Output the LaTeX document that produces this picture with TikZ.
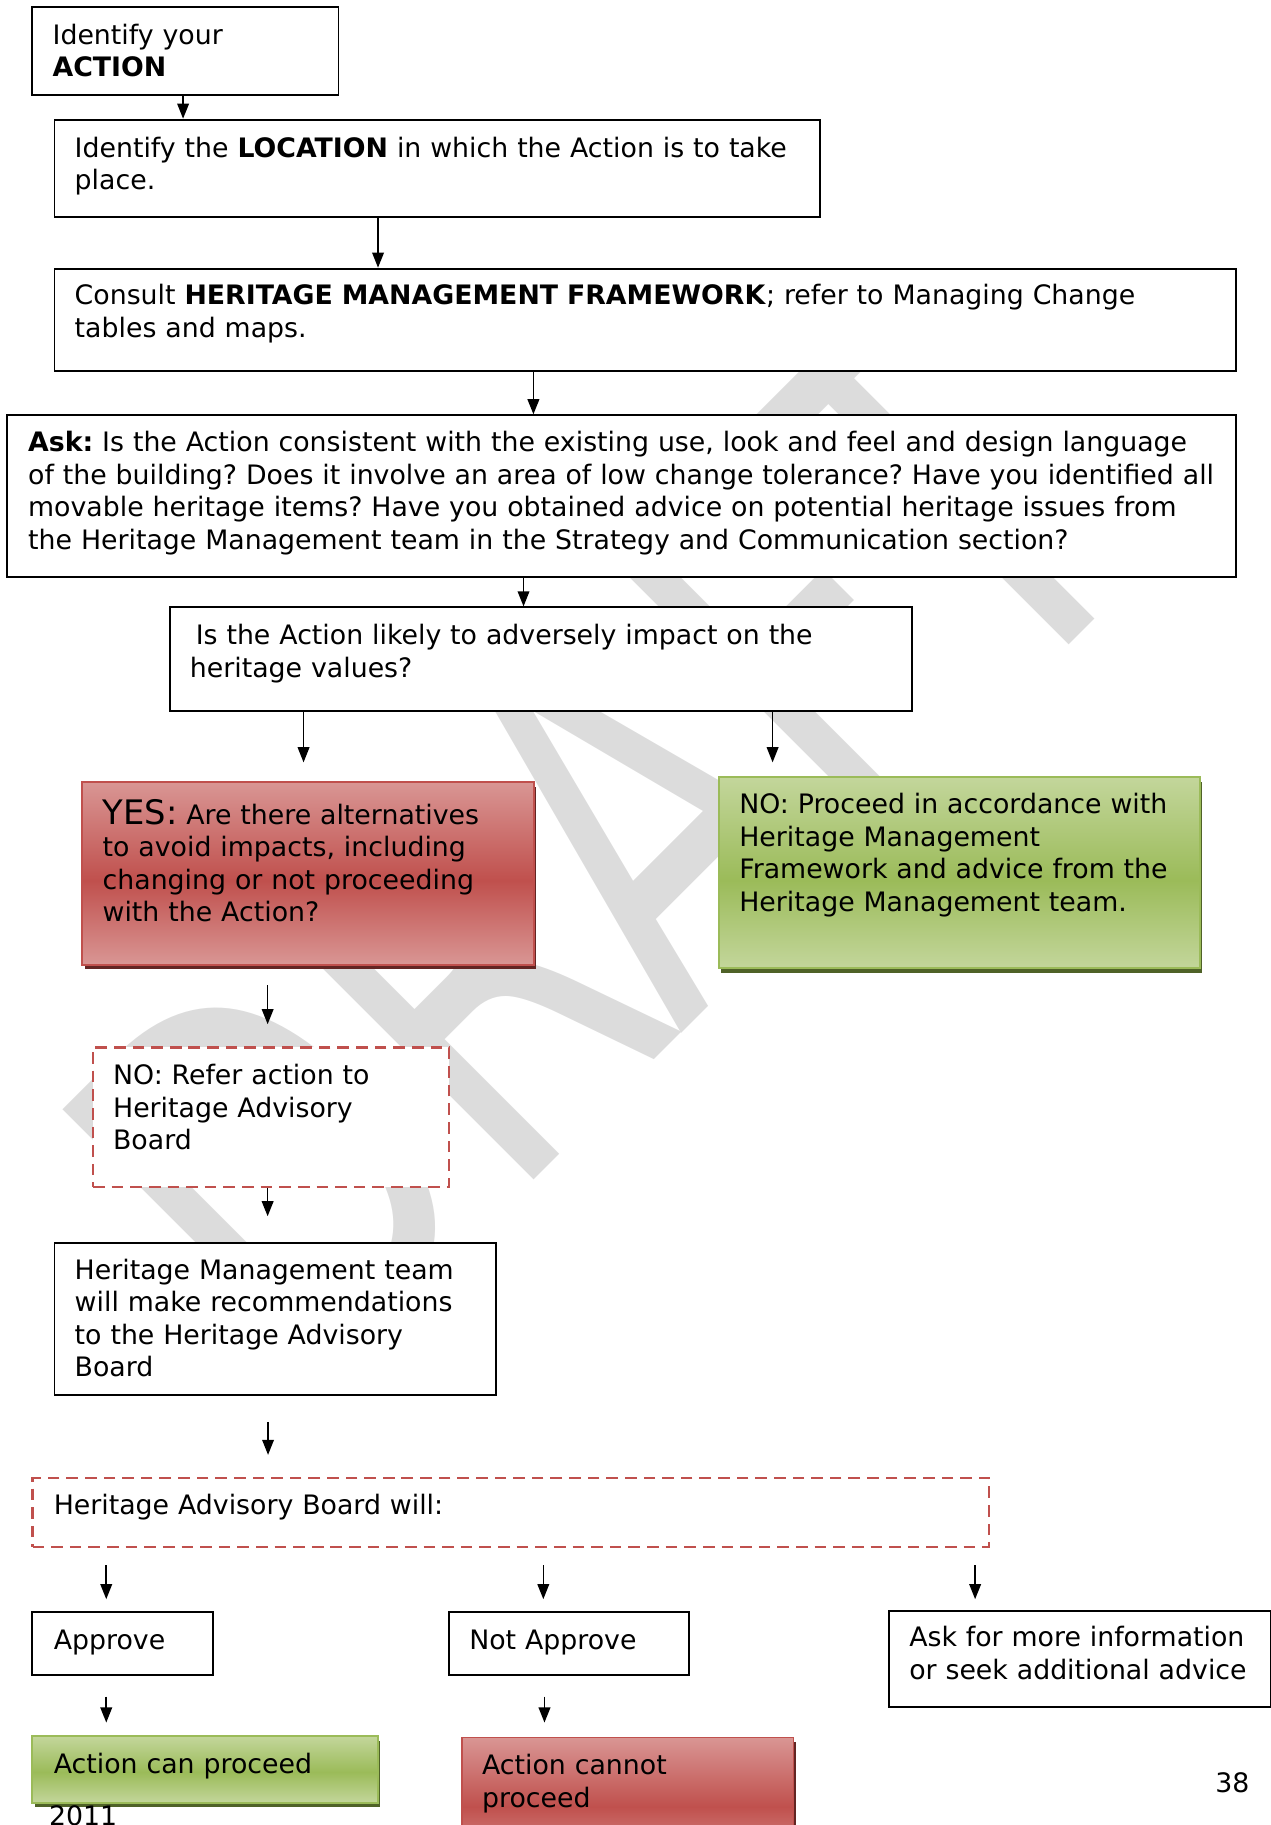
\documentclass[tikz,border=0pt]{standalone}
\usepackage{fontspec}
\setmainfont{DejaVu Sans}
\usetikzlibrary{arrows.meta,shadows}

\definecolor{redlt}{RGB}{217,150,148}
\definecolor{redmd}{RGB}{192,80,77}
\definecolor{reddk}{RGB}{99,37,35}
\definecolor{greenlt}{RGB}{195,214,155}
\definecolor{greenmd}{RGB}{155,187,89}
\definecolor{greendk}{RGB}{79,98,40}
\definecolor{wmgray}{RGB}{220,220,220}

\pgfdeclareverticalshading{redshade}{100bp}{color(0bp)=(redlt); color(25bp)=(redlt); color(48bp)=(redmd); color(75bp)=(redlt); color(100bp)=(redlt)}
\pgfdeclareverticalshading{greenshade}{100bp}{color(0bp)=(greenlt); color(25bp)=(greenlt); color(48bp)=(greenmd); color(75bp)=(greenlt); color(100bp)=(greenlt)}

\frenchspacing

\begin{document}
\begin{tikzpicture}[x=1pt, y=-1pt,
  font=\fontsize{23}{28}\selectfont,
  box/.style={draw, line width=1.6pt, fill=white, anchor=north west, inner sep=0pt},
  dashbox/.style={box, draw=redmd, line width=1.9pt, dash pattern=on 10pt off 6pt},
  redbox/.style={anchor=north west, inner sep=0pt, draw=redmd, line width=1.6pt, shading=redshade,
    drop shadow={shadow xshift=2pt, shadow yshift=-4pt, fill=reddk, opacity=1}},
  greenbox/.style={anchor=north west, inner sep=0pt, draw=greenmd, line width=1.6pt, shading=greenshade,
    drop shadow={shadow xshift=2pt, shadow yshift=-4pt, fill=greendk, opacity=1}},
  txt/.style={anchor=base west, inner sep=0pt, align=left, text width=1100pt},
  arr/.style={line width=1.4pt, -{Triangle[length=13pt,width=10pt]}},
  wm/.style={text=wmgray, font=\fontsize{452}{452}\selectfont, rotate=45, xscale=0.7, inner sep=0pt}]

\useasboundingbox (0,0) rectangle (1092,1568);

% watermark
\node[wm] (draft) at (515,725) {DRAFT};

% boxes
\node[box, minimum width=263, minimum height=76] (act) at (27,5) {};
\node[box, minimum width=658, minimum height=84] (loc) at (46,102) {};
\node[box, minimum width=1015, minimum height=88] (cons) at (46,230) {};
\node[box, minimum width=1056, minimum height=139] (ask) at (5,356) {};
\node[box, minimum width=638, minimum height=89] (q) at (145,521) {};
\node[redbox, minimum width=388, minimum height=157] (yes) at (70,671) {};
\node[greenbox, minimum width=413, minimum height=164] (nogo) at (617,667) {};
\node[dashbox, minimum width=306, minimum height=120] (refer) at (79,899) {};
\node[box, minimum width=379, minimum height=131] (hmt) at (46,1067) {};
\node[dashbox, minimum width=822, minimum height=59] (hab) at (27,1269) {};
\node[box, minimum width=155, minimum height=54] (appr) at (27,1384) {};
\node[box, minimum width=206, minimum height=54] (notappr) at (385,1384) {};
\node[box, minimum width=328, minimum height=83] (more) at (763,1383) {};
\node[greenbox, minimum width=297, minimum height=57] (can) at (27,1491) {};
\node[redbox, minimum width=285, minimum height=110] (cannot) at (396,1492) {};

% texts
\node[txt] (act-t) at (45,38) {Identify your\\\textbf{ACTION}};
\node[txt] (loc-t) at (64,135) {Identify the \textbf{LOCATION} in which the Action is to take\\place.};
\node[txt] (cons-t) at (64,262) {Consult \textbf{HERITAGE MANAGEMENT FRAMEWORK}; refer to Managing Change\\tables and maps.};
\node[txt] (ask-t) at (24,388) {\textbf{Ask:} Is the Action consistent with the existing use, look and feel and design language\\of the building? Does it involve an area of low change tolerance? Have you identified all\\movable heritage items? Have you obtained advice on potential heritage issues from\\the Heritage Management team in the Strategy and Communication section?};
\node[txt] (q-t) at (163,554) {\hspace{5pt}Is the Action likely to adversely impact on the\\heritage values?};
\node[txt] (yes-t) at (88,708) {{\fontsize{29}{29}\selectfont YES:} Are there alternatives\\to avoid impacts, including\\changing or not proceeding\\with the Action?};
\node[txt] (nogo-t) at (635,699) {NO: Proceed in accordance with\\Heritage Management\\Framework and advice from the\\Heritage Management team.};
\node[txt] (refer-t) at (97,932) {NO: Refer action to\\Heritage Advisory\\Board};
\node[txt] (hmt-t) at (64,1099) {Heritage Management team\\will make recommendations\\to the Heritage Advisory\\Board};
\node[txt] (hab-t) at (46,1301) {Heritage Advisory Board will:};
\node[txt] (appr-t) at (46,1417) {Approve};
\node[txt] (notappr-t) at (403,1417) {Not Approve};
\node[txt] (more-t) at (781,1415) {Ask for more information\\or seek additional advice};
\node[txt] (can-t) at (46,1524) {Action can proceed};
\node[txt] (cannot-t) at (414,1525) {Action cannot\\proceed};
\node[txt] (page) at (1044,1540) {38};
\node[txt] (year) at (42,1568) {2011};

% connectors
\draw[arr] ([xshift=-2pt]act.south) -- ([xshift=-2pt]act.south |- loc.north);
\draw[arr] ([xshift=-51pt]loc.south) -- ([xshift=-51pt]loc.south |- cons.north);
\draw[arr] ([xshift=-96pt]cons.south) -- ([xshift=-96pt]cons.south |- ask.north);
\draw[arr] ([xshift=-84pt]ask.south) -- ([xshift=-84pt]ask.south |- q.north);
\draw[arr, shorten >=16pt] ([xshift=-204pt]q.south) -- ([xshift=-204pt]q.south |- yes.north);
\draw[arr, shorten >=12pt] ([xshift=199pt]q.south) -- ([xshift=199pt]q.south |- nogo.north);
\draw[arr, shorten <=17pt, shorten >=19pt] ([xshift=-3pt]refer.north |- yes.south) -- ([xshift=-3pt]refer.north);
\draw[arr, shorten >=22pt] ([xshift=-3pt]refer.south) -- ([xshift=-3pt]refer.south |- hmt.north);
\draw[arr, shorten <=22pt, shorten >=19pt] ([xshift=-6pt]hmt.south) -- ([xshift=-6pt]hmt.south |- hab.north);
\draw[arr, shorten <=15pt, shorten >=10pt] ([xshift=-14pt]appr.north |- hab.south) -- ([xshift=-14pt]appr.north);
\draw[arr, shorten <=15pt, shorten >=10pt] ([xshift=-22pt]notappr.north |- hab.south) -- ([xshift=-22pt]notappr.north);
\draw[arr, shorten <=15pt, shorten >=9pt] ([xshift=-90pt]more.north |- hab.south) -- ([xshift=-90pt]more.north);
\draw[arr, shorten <=18pt, shorten >=11pt] ([xshift=-14pt]appr.south) -- ([xshift=-14pt]appr.south |- can.north);
\draw[arr, shorten <=18pt, shorten >=12pt] ([xshift=-21pt]notappr.south) -- ([xshift=-21pt]notappr.south |- cannot.north);
\end{tikzpicture}
\end{document}
